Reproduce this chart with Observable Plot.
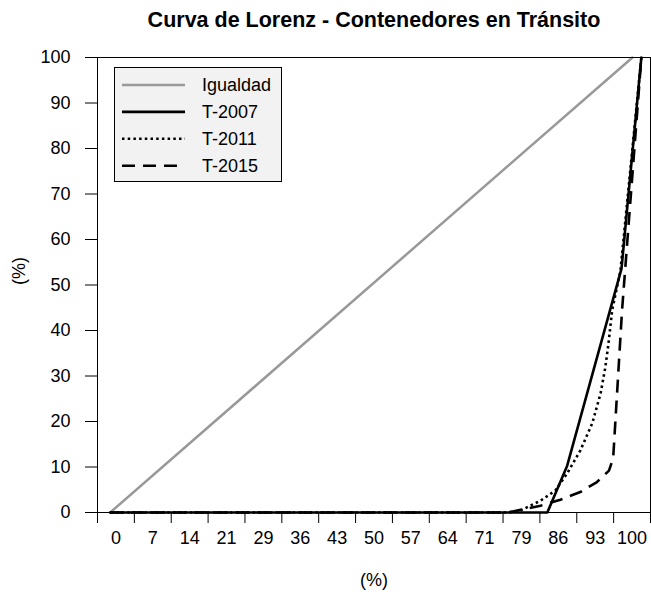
<!DOCTYPE html>
<html>
<head>
<meta charset="utf-8">
<script src="https://cdn.jsdelivr.net/npm/d3@7"></script>
<script src="https://cdn.jsdelivr.net/npm/@observablehq/plot@0.6"></script>
<style>
  html, body { margin: 0; padding: 0; background: white; }
  svg { display: block; }
</style>
</head>
<body>
<div id="chart"></div>
<script>
// ---- data ----
const titleText = "Curva de Lorenz - Contenedores en Tránsito";
const xAxisTitle = "(%)";
const yAxisTitle = "(%)";
const xTickLabels = ["0","7","14","21","29","36","43","50","57","64","71","79","86","93","100"];
const yTickValues = [0,10,20,30,40,50,60,70,80,90,100];

const seriesNames = ["Igualdad", "T-2007", "T-2011", "T-2015"];

const igualdadX = [0, 100];
const igualdadY = [0, 100];

const t2007X = [0, 83.7, 87.5, 97.9, 101.7];
const t2007Y = [0, 0, 10.3, 53.6, 100];

const t2011X = [0, 76.0, 78.5, 82.4, 85.2, 87.5, 90.0, 92.3, 93.9, 94.8, 95.4, 96.1, 97.7, 101.7];
const t2011Y = [0, 0, 0.4, 2.6, 4.8, 8.6, 13.6, 19.6, 26.2, 31.9, 37.1, 44.4, 53.2, 100];

const t2015X = [0, 76.1, 82.4, 86.2, 90.0, 93.2, 95.5, 96.3, 98.0, 101.7];
const t2015Y = [0, 0, 1.5, 2.8, 4.5, 6.7, 9.2, 11.9, 44.4, 100];

// ---- layout / styles ----
const W = 651, H = 592;
const XDOM = [-2.43, 103.45];
const nBins = xTickLabels.length;
const step = (XDOM[1] - XDOM[0]) / nBins;
const xTickPos = d3.range(nBins + 1).map(k => XDOM[0] + k * step);
const xLabelPos = d3.range(nBins).map(k => XDOM[0] + (k + 0.5) * step);

const styles = [
  {stroke: "#999999", dash: null, width: 2.5},
  {stroke: "black", dash: null, width: 2.6},
  {stroke: "black", dash: "2.5,3.2", width: 2.6},
  {stroke: "black", dash: "13,8", width: 2.6}
];
const seriesXs = [igualdadX, t2007X, t2011X, t2015X];
const seriesYs = [igualdadY, t2007Y, t2011Y, t2015Y];

const lineMarks = seriesNames.map((name, s) => {
  const pts = seriesXs[s].map((x, i) => ({x, y: seriesYs[s][i]}));
  const st = styles[s];
  const opts = {x: "x", y: "y", stroke: st.stroke, strokeWidth: st.width, strokeLinejoin: "round"};
  if (st.dash) { opts.strokeDasharray = st.dash; opts.strokeLinecap = "butt"; }
  return Plot.line(pts, opts);
});

const FONT = "'Liberation Sans', Arial, Helvetica, sans-serif";

const chart = Plot.plot({
  width: W,
  height: H,
  marginLeft: 97,
  marginRight: 1,
  marginTop: 57,
  marginBottom: 80,
  style: {fontFamily: FONT, fontSize: "18px", color: "black", background: "white", overflow: "visible"},
  x: {domain: XDOM, axis: null},
  y: {domain: [0, 100], axis: null},
  marks: [
    Plot.axisY({ticks: yTickValues, tickSize: 12, tickPadding: 15, tickFormat: d => String(d), label: null, fontSize: 18, stroke: "black"}),
    Plot.axisX({ticks: xTickPos, tickSize: 11, tickFormat: () => "", label: null, stroke: "black"}),
    Plot.axisX({ticks: xLabelPos, tickSize: 0, tickPadding: 19,
      tickFormat: v => xTickLabels[Math.round((v - xLabelPos[0]) / step)], label: null, fontSize: 18}),
    ...lineMarks,
    Plot.frame({stroke: "black", strokeWidth: 1}),
    Plot.text([titleText], {frameAnchor: "top", dy: -37, text: d => d, fontWeight: "bold", fontSize: 21.5, lineAnchor: "middle", fill: "black"}),
    Plot.text([xAxisTitle], {frameAnchor: "bottom", dy: 68, text: d => d, fontSize: 18, lineAnchor: "middle", fill: "black"}),
    Plot.text([yAxisTitle], {frameAnchor: "left", dx: -78, text: d => d, fontSize: 18, rotate: -90, lineAnchor: "middle", fill: "black"})
  ]
});

// ---- legend (layout inside the plot area) ----
const svg = d3.select(chart);
const lg = svg.append("g").attr("font-family", FONT).attr("font-size", 18).attr("text-anchor", "start");
const box = {x: 114.5, y: 67.5, w: 167, h: 114};
lg.append("rect").attr("x", box.x).attr("y", box.y).attr("width", box.w).attr("height", box.h)
  .attr("fill", "#f2f2f2").attr("stroke", "black").attr("stroke-width", 1);
seriesNames.forEach((name, i) => {
  const y = 85 + i * 26.9;
  const st = styles[i];
  const ln = lg.append("line").attr("x1", 122).attr("x2", 185).attr("y1", y).attr("y2", y)
    .attr("stroke", st.stroke).attr("stroke-width", st.width);
  if (st.dash) ln.attr("stroke-dasharray", st.dash);
  lg.append("text").attr("x", 202).attr("y", y).attr("dy", "0.35em")
    .attr("text-anchor", "start").attr("fill", "black").text(name);
});

document.getElementById("chart").appendChild(chart);
</script>
</body>
</html>
